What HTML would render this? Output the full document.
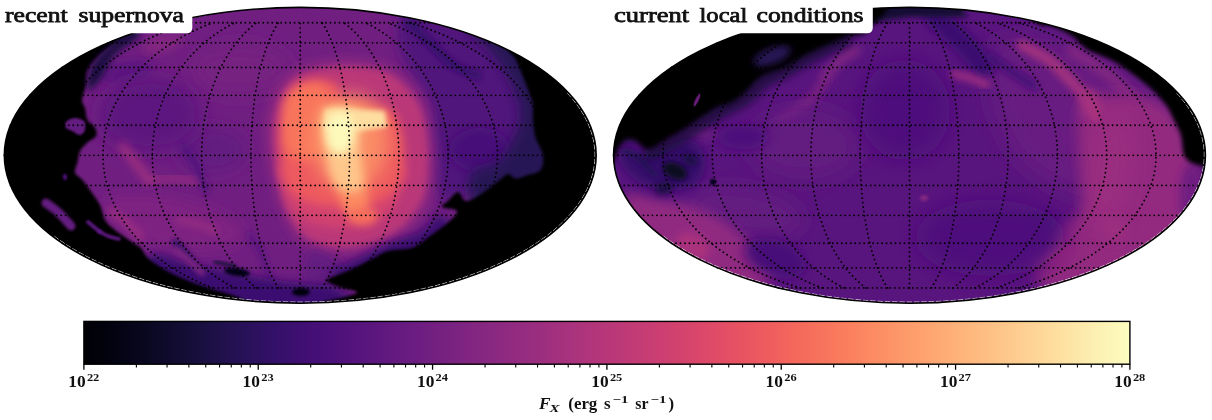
<!DOCTYPE html>
<html><head><meta charset="utf-8"><title>X-ray flux sky maps</title>
<style>
html,body{margin:0;padding:0;background:#fff;}
body{width:1212px;height:420px;overflow:hidden;font-family:"Liberation Serif",serif;}
svg{display:block}
text{font-family:"Liberation Serif",serif;font-weight:bold;fill:#111;}
</style></head><body>
<svg width="1212" height="420" viewBox="0 0 1212 420">
<defs>
<clipPath id="cl"><ellipse cx="300.25" cy="155.30" rx="295.90" ry="147.90"/></clipPath>
<clipPath id="cr"><ellipse cx="909.50" cy="155.30" rx="295.90" ry="147.90"/></clipPath>
<linearGradient id="mg" x1="0" x2="1" y1="0" y2="0"><stop offset="0.0000" stop-color="#000004"/><stop offset="0.0312" stop-color="#030312"/><stop offset="0.0625" stop-color="#0a0822"/><stop offset="0.0938" stop-color="#130d34"/><stop offset="0.1250" stop-color="#1d1147"/><stop offset="0.1562" stop-color="#29115a"/><stop offset="0.1875" stop-color="#36106b"/><stop offset="0.2188" stop-color="#440f76"/><stop offset="0.2500" stop-color="#51127c"/><stop offset="0.2812" stop-color="#5d177f"/><stop offset="0.3125" stop-color="#6a1c81"/><stop offset="0.3438" stop-color="#762181"/><stop offset="0.3750" stop-color="#832681"/><stop offset="0.4062" stop-color="#902a81"/><stop offset="0.4375" stop-color="#9c2e7f"/><stop offset="0.4688" stop-color="#aa337d"/><stop offset="0.5000" stop-color="#b73779"/><stop offset="0.5312" stop-color="#c43c75"/><stop offset="0.5625" stop-color="#d0416f"/><stop offset="0.5938" stop-color="#dc4869"/><stop offset="0.6250" stop-color="#e75263"/><stop offset="0.6562" stop-color="#ef5d5e"/><stop offset="0.6875" stop-color="#f56b5c"/><stop offset="0.7188" stop-color="#f9795d"/><stop offset="0.7500" stop-color="#fc8961"/><stop offset="0.7812" stop-color="#fd9869"/><stop offset="0.8125" stop-color="#fea772"/><stop offset="0.8438" stop-color="#feb67c"/><stop offset="0.8750" stop-color="#fec488"/><stop offset="0.9062" stop-color="#fed395"/><stop offset="0.9375" stop-color="#fde2a3"/><stop offset="0.9688" stop-color="#fcf0b2"/><stop offset="1.0000" stop-color="#fcfdbf"/></linearGradient>
<filter id="b0_7" x="-50%" y="-50%" width="200%" height="200%"><feGaussianBlur stdDeviation="0.7"/></filter>
<filter id="b0_8" x="-50%" y="-50%" width="200%" height="200%"><feGaussianBlur stdDeviation="0.8"/></filter>
<filter id="b1" x="-50%" y="-50%" width="200%" height="200%"><feGaussianBlur stdDeviation="1"/></filter>
<filter id="b1_2" x="-50%" y="-50%" width="200%" height="200%"><feGaussianBlur stdDeviation="1.2"/></filter>
<filter id="b1_5" x="-50%" y="-50%" width="200%" height="200%"><feGaussianBlur stdDeviation="1.5"/></filter>
<filter id="b1_8" x="-50%" y="-50%" width="200%" height="200%"><feGaussianBlur stdDeviation="1.8"/></filter>
<filter id="b2" x="-50%" y="-50%" width="200%" height="200%"><feGaussianBlur stdDeviation="2"/></filter>
<filter id="b2_5" x="-50%" y="-50%" width="200%" height="200%"><feGaussianBlur stdDeviation="2.5"/></filter>
<filter id="b3" x="-50%" y="-50%" width="200%" height="200%"><feGaussianBlur stdDeviation="3"/></filter>
<filter id="b3_5" x="-50%" y="-50%" width="200%" height="200%"><feGaussianBlur stdDeviation="3.5"/></filter>
<filter id="b4" x="-50%" y="-50%" width="200%" height="200%"><feGaussianBlur stdDeviation="4"/></filter>
<filter id="b4_5" x="-50%" y="-50%" width="200%" height="200%"><feGaussianBlur stdDeviation="4.5"/></filter>
<filter id="b5" x="-50%" y="-50%" width="200%" height="200%"><feGaussianBlur stdDeviation="5"/></filter>
<filter id="b6" x="-50%" y="-50%" width="200%" height="200%"><feGaussianBlur stdDeviation="6"/></filter>
<filter id="b7" x="-50%" y="-50%" width="200%" height="200%"><feGaussianBlur stdDeviation="7"/></filter>
<filter id="b8" x="-50%" y="-50%" width="200%" height="200%"><feGaussianBlur stdDeviation="8"/></filter>
<filter id="b9" x="-50%" y="-50%" width="200%" height="200%"><feGaussianBlur stdDeviation="9"/></filter>
<filter id="b10" x="-50%" y="-50%" width="200%" height="200%"><feGaussianBlur stdDeviation="10"/></filter>
<filter id="b12" x="-50%" y="-50%" width="200%" height="200%"><feGaussianBlur stdDeviation="12"/></filter>
</defs>
<rect width="1212" height="420" fill="#fff"/>
<g clip-path="url(#cl)">
<rect x="-0.6" y="0" width="601.8" height="310" fill="#701f81"/>
<ellipse cx="162.0" cy="44.0" rx="20.0" ry="8.0" fill="#842681" filter="url(#b4)" transform="rotate(-15.0 162.0 44.0)"/>
<ellipse cx="127.0" cy="72.0" rx="26.0" ry="11.0" fill="#5c167f" filter="url(#b5)" transform="rotate(-10.0 127.0 72.0)"/>
<ellipse cx="212.0" cy="150.0" rx="36.0" ry="24.0" fill="#641a80" filter="url(#b8)"/>
<ellipse cx="150.0" cy="115.0" rx="52.0" ry="38.0" fill="#5d177f" filter="url(#b10)"/>
<ellipse cx="240.0" cy="70.0" rx="50.0" ry="25.0" fill="#762181" filter="url(#b10)"/>
<path d="M150.0 180.0 C154.2 179.7 166.7 177.5 175.0 178.0 C183.3 178.5 195.8 182.2 200.0 183.0" fill="none" stroke="#8c2981" stroke-width="10.0" stroke-linecap="round" filter="url(#b4)"/>
<path d="M123.0 147.0 C125.3 150.0 132.5 159.3 137.0 165.0 C141.5 170.7 147.8 178.3 150.0 181.0" fill="none" stroke="#9c2e7f" stroke-width="9.0" stroke-linecap="round" filter="url(#b4)"/>
<path d="M184.0 147.0 C186.0 150.0 192.3 157.8 196.0 165.0 C199.7 172.2 204.3 185.8 206.0 190.0" fill="none" stroke="#51127c" stroke-width="7.0" stroke-linecap="round" filter="url(#b3)"/>
<path d="M105.0 200.0 C110.0 194.2 134.2 194.2 150.0 195.0 C165.8 195.8 185.0 200.0 200.0 205.0 C215.0 210.0 234.2 218.3 240.0 225.0 C245.8 231.7 243.3 240.8 235.0 245.0 C226.7 249.2 204.2 250.0 190.0 250.0 C175.8 250.0 161.7 248.3 150.0 245.0 C138.3 241.7 127.5 237.5 120.0 230.0 C112.5 222.5 100.0 205.8 105.0 200.0 Z" fill="#7e2482" filter="url(#b7)"/>
<path d="M112.0 212.0 C114.3 213.7 121.3 218.0 126.0 222.0 C130.7 226.0 137.7 233.7 140.0 236.0" fill="none" stroke="#942c80" stroke-width="9.0" stroke-linecap="round" filter="url(#b3)"/>
<path d="M180.0 220.0 C183.0 220.7 192.2 222.2 198.0 224.0 C203.8 225.8 212.2 229.8 215.0 231.0" fill="none" stroke="#902a81" stroke-width="9.0" stroke-linecap="round" filter="url(#b3)"/>
<path d="M175.0 242.0 C176.8 243.8 182.5 249.0 186.0 253.0 C189.5 257.0 194.3 263.8 196.0 266.0" fill="none" stroke="#331067" stroke-width="6.0" stroke-linecap="round" filter="url(#b2_5)"/>
<path d="M150.0 262.0 C154.2 264.2 165.8 271.5 175.0 275.0 C184.2 278.5 200.0 281.7 205.0 283.0" fill="none" stroke="#1a1042" stroke-width="4.0" stroke-linecap="round" filter="url(#b2)"/>
<path d="M250.0 235.0 C252.0 238.3 258.7 247.5 262.0 255.0 C265.3 262.5 268.7 275.8 270.0 280.0" fill="none" stroke="#59157e" stroke-width="6.0" stroke-linecap="round" filter="url(#b3)"/>
<path d="M405.0 12.0 C415.3 8.2 441.7 14.8 460.0 22.0 C478.3 29.2 501.7 42.0 515.0 55.0 C528.3 68.0 535.8 81.7 540.0 100.0 C544.2 118.3 546.7 151.7 540.0 165.0 C533.3 178.3 511.7 175.0 500.0 180.0 C488.3 185.0 480.0 191.7 470.0 195.0 C460.0 198.3 446.3 207.5 440.0 200.0 C433.7 192.5 433.7 165.8 432.0 150.0 C430.3 134.2 432.8 116.7 430.0 105.0 C427.2 93.3 420.3 90.0 415.0 80.0 C409.7 70.0 399.7 56.3 398.0 45.0 C396.3 33.7 394.7 15.8 405.0 12.0 Z" fill="#51127c" filter="url(#b6)"/>
<path d="M408.0 22.0 C412.0 25.8 424.5 37.8 432.0 45.0 C439.5 52.2 445.3 59.8 453.0 65.0 C460.7 70.2 473.8 74.2 478.0 76.0" fill="none" stroke="#36106b" stroke-width="8.0" stroke-linecap="round" filter="url(#b3)"/>
<ellipse cx="480.0" cy="150.0" rx="30.0" ry="22.0" fill="#471078" filter="url(#b6)"/>
<path d="M268.0 150.0 C266.5 134.5 267.7 121.3 270.0 110.0 C272.3 98.7 276.5 89.2 282.0 82.0 C287.5 74.8 292.5 70.7 303.0 67.0 C313.5 63.3 331.0 60.2 345.0 60.0 C359.0 59.8 375.8 62.0 387.0 66.0 C398.2 70.0 405.3 76.7 412.0 84.0 C418.7 91.3 423.3 99.0 427.0 110.0 C430.7 121.0 433.2 136.7 434.0 150.0 C434.8 163.3 434.3 178.8 432.0 190.0 C429.7 201.2 425.8 208.7 420.0 217.0 C414.2 225.3 407.0 234.0 397.0 240.0 C387.0 246.0 372.0 250.8 360.0 253.0 C348.0 255.2 335.0 255.2 325.0 253.0 C315.0 250.8 307.7 248.3 300.0 240.0 C292.3 231.7 284.3 218.0 279.0 203.0 C273.7 188.0 269.5 165.5 268.0 150.0 Z" fill="#942c80" filter="url(#b6)"/>
<path d="M310.0 250.0 C315.8 247.0 333.3 256.2 340.0 262.0 C346.7 267.8 352.5 279.2 350.0 285.0 C347.5 290.8 332.5 297.8 325.0 297.0 C317.5 296.2 307.5 287.8 305.0 280.0 C302.5 272.2 304.2 253.0 310.0 250.0 Z" fill="#641a80" filter="url(#b6)"/>
<path d="M150.0 256.0 C156.7 248.3 176.7 261.5 190.0 264.0 C203.3 266.5 216.7 268.5 230.0 271.0 C243.3 273.5 256.7 276.8 270.0 279.0 C283.3 281.2 299.2 282.5 310.0 284.0 C320.8 285.5 329.2 283.7 335.0 288.0 C340.8 292.3 375.8 306.3 345.0 310.0 C314.2 313.7 182.5 319.0 150.0 310.0 C117.5 301.0 143.3 263.7 150.0 256.0 Z" fill="#3b0f70" filter="url(#b4)"/>
<path d="M177.0 250.0 C179.2 251.8 185.8 257.2 190.0 261.0 C194.2 264.8 200.0 271.0 202.0 273.0" fill="none" stroke="#802582" stroke-width="6.0" stroke-linecap="round" filter="url(#b2_5)"/>
<ellipse cx="237.0" cy="272.0" rx="13.0" ry="4.0" fill="#050416" filter="url(#b1_5)" transform="rotate(8.0 237.0 272.0)"/>
<ellipse cx="301.0" cy="292.0" rx="9.0" ry="4.0" fill="#03030f" filter="url(#b1_5)"/>
<path d="M215.0 262.0 L235.0 266.0" fill="none" stroke="#140e36" stroke-width="3.0" stroke-linecap="round" filter="url(#b1_5)"/>
<path d="M274.0 150.0 C272.8 135.3 273.8 122.5 276.0 112.0 C278.2 101.5 282.0 93.5 287.0 87.0 C292.0 80.5 296.3 76.3 306.0 73.0 C315.7 69.7 332.0 67.2 345.0 67.0 C358.0 66.8 373.7 68.3 384.0 72.0 C394.3 75.7 400.8 82.3 407.0 89.0 C413.2 95.7 417.7 101.8 421.0 112.0 C424.3 122.2 426.3 137.3 427.0 150.0 C427.7 162.7 427.2 177.7 425.0 188.0 C422.8 198.3 419.5 204.5 414.0 212.0 C408.5 219.5 401.3 227.5 392.0 233.0 C382.7 238.5 369.0 243.0 358.0 245.0 C347.0 247.0 335.7 247.3 326.0 245.0 C316.3 242.7 307.2 238.5 300.0 231.0 C292.8 223.5 287.3 213.5 283.0 200.0 C278.7 186.5 275.2 164.7 274.0 150.0 Z" fill="#ba3878" filter="url(#b3)"/>
<path d="M283.0 165.0 C293.0 160.3 324.8 160.0 345.0 160.0 C365.2 160.0 394.7 160.0 404.0 165.0 C413.3 170.0 402.8 182.8 401.0 190.0 C399.2 197.2 397.3 202.7 393.0 208.0 C388.7 213.3 383.0 218.7 375.0 222.0 C367.0 225.3 355.5 227.8 345.0 228.0 C334.5 228.2 320.8 226.3 312.0 223.0 C303.2 219.7 296.5 213.8 292.0 208.0 C287.5 202.2 286.5 195.2 285.0 188.0 C283.5 180.8 273.0 169.7 283.0 165.0 Z" fill="#d2426f" filter="url(#b4)"/>
<path d="M281.0 150.0 C280.8 139.8 281.7 124.0 283.0 115.0 C284.3 106.0 286.2 101.2 289.0 96.0 C291.8 90.8 294.8 86.7 300.0 84.0 C305.2 81.3 314.0 80.0 320.0 80.0 C326.0 80.0 332.3 80.7 336.0 84.0 C339.7 87.3 337.2 96.7 342.0 100.0 C346.8 103.3 357.0 102.3 365.0 104.0 C373.0 105.7 384.2 106.0 390.0 110.0 C395.8 114.0 397.7 121.3 400.0 128.0 C402.3 134.7 403.7 142.2 404.0 150.0 C404.3 157.8 404.0 167.8 402.0 175.0 C400.0 182.2 397.0 188.2 392.0 193.0 C387.0 197.8 379.8 201.7 372.0 204.0 C364.2 206.3 355.0 207.2 345.0 207.0 C335.0 206.8 320.8 205.5 312.0 203.0 C303.2 200.5 296.7 196.5 292.0 192.0 C287.3 187.5 285.8 183.0 284.0 176.0 C282.2 169.0 281.2 160.2 281.0 150.0 Z" fill="#ed5a5f" filter="url(#b5)"/>
<path d="M286.0 102.0 C288.5 92.3 294.0 89.8 300.0 87.0 C306.0 84.2 317.3 81.5 322.0 85.0 C326.7 88.5 327.3 97.2 328.0 108.0 C328.7 118.8 330.7 141.3 326.0 150.0 C321.3 158.7 306.8 160.8 300.0 160.0 C293.2 159.2 287.3 154.7 285.0 145.0 C282.7 135.3 283.5 111.7 286.0 102.0 Z" fill="#f8745c" filter="url(#b5)"/>
<ellipse cx="350.0" cy="142.0" rx="38.0" ry="48.0" fill="#fd9668" opacity="0.85" filter="url(#b9)"/>
<path d="M338.0 170.0 C341.3 164.2 357.0 164.2 362.0 170.0 C367.0 175.8 369.0 197.0 368.0 205.0 C367.0 213.0 360.3 218.0 356.0 218.0 C351.7 218.0 345.0 213.0 342.0 205.0 C339.0 197.0 334.7 175.8 338.0 170.0 Z" fill="#fc8961" filter="url(#b5)"/>
<path d="M323.0 110.0 C328.0 102.0 350.8 105.3 357.0 112.0 C363.2 118.7 359.0 137.8 360.0 150.0 C361.0 162.2 364.7 178.0 363.0 185.0 C361.3 192.0 354.7 192.0 350.0 192.0 C345.3 192.0 338.8 190.3 335.0 185.0 C331.2 179.7 329.0 172.5 327.0 160.0 C325.0 147.5 318.0 118.0 323.0 110.0 Z" fill="#fec68a" filter="url(#b5)"/>
<path d="M325.0 110.0 L355.0 109.0 L385.0 111.0 L387.0 127.0 L360.0 131.0 L325.0 131.0 Z" fill="#fddea0" filter="url(#b2_5)"/>
<ellipse cx="340.0" cy="133.0" rx="14.0" ry="21.0" fill="#fcf9bb" filter="url(#b4_5)"/>
<ellipse cx="363.0" cy="216.0" rx="14.0" ry="9.0" fill="#f7705c" filter="url(#b4)"/>
<path d="M150.0 -10.0 C176.7 -4.2 143.3 17.3 140.0 25.0 C136.7 32.7 135.0 32.3 130.0 36.0 C125.0 39.7 115.8 43.0 110.0 47.0 C104.2 51.0 98.8 55.8 95.0 60.0 C91.2 64.2 88.5 67.8 87.0 72.0 C85.5 76.2 86.8 80.3 86.0 85.0 C85.2 89.7 82.2 96.2 82.0 100.0 C81.8 103.8 84.1 104.7 85.0 108.0 C85.9 111.3 85.8 116.8 87.5 120.0 C89.2 123.2 93.6 124.8 95.0 127.5 C96.4 130.2 97.2 133.5 96.0 136.0 C94.8 138.5 90.2 140.0 87.5 142.5 C84.8 145.0 81.7 147.7 80.0 151.0 C78.3 154.3 78.3 158.9 77.5 162.5 C76.7 166.1 74.2 169.6 75.0 172.5 C75.8 175.4 80.0 177.1 82.5 180.0 C85.0 182.9 87.1 185.8 90.0 190.0 C92.9 194.2 97.5 200.0 100.0 205.0 C102.5 210.0 102.5 215.8 105.0 220.0 C107.5 224.2 110.5 226.3 115.0 230.0 C119.5 233.7 127.7 239.0 132.0 242.0 C136.3 245.0 138.0 245.0 141.0 248.0 C144.0 251.0 144.3 255.5 150.0 260.0 C155.7 264.5 165.8 270.5 175.0 275.0 C184.2 279.5 194.2 283.2 205.0 287.0 C215.8 290.8 230.8 293.8 240.0 298.0 C249.2 302.2 260.0 306.7 260.0 312.0 C260.0 317.3 286.7 327.0 240.0 330.0 C193.3 333.0 23.3 386.7 -20.0 330.0 C-63.3 273.3 -48.3 46.7 -20.0 -10.0 C8.3 -66.7 123.3 -15.8 150.0 -10.0 Z" fill="#000004" filter="url(#b1_5)"/>
<path d="M130.0 30.0 C125.3 31.3 117.5 39.3 112.0 44.0 C106.5 48.7 100.8 53.3 97.0 58.0 C93.2 62.7 90.5 66.7 89.0 72.0 C87.5 77.3 86.2 88.7 88.0 90.0 C89.8 91.3 95.5 85.8 100.0 80.0 C104.5 74.2 108.3 62.3 115.0 55.0 C121.7 47.7 137.5 40.2 140.0 36.0 C142.5 31.8 134.7 28.7 130.0 30.0 Z" fill="#1a1042" filter="url(#b3)"/>
<path d="M66.0 122.0 C67.3 120.3 71.0 118.2 74.0 118.0 C77.0 117.8 82.2 119.0 84.0 121.0 C85.8 123.0 85.7 127.7 85.0 130.0 C84.3 132.3 82.2 134.8 80.0 135.0 C77.8 135.2 74.3 132.2 72.0 131.0 C69.7 129.8 67.0 129.5 66.0 128.0 C65.0 126.5 64.7 123.7 66.0 122.0 Z" fill="#641a80" filter="url(#b1_2)"/>
<path d="M46.0 203.0 C48.0 204.5 53.8 208.2 58.0 212.0 C62.2 215.8 68.8 223.7 71.0 226.0" fill="none" stroke="#641a80" stroke-width="9.0" stroke-linecap="round" filter="url(#b1_5)"/>
<path d="M88.0 222.0 L100.0 232.0" fill="none" stroke="#59157e" stroke-width="4.0" stroke-linecap="round" filter="url(#b1_2)"/>
<path d="M99.0 231.0 C100.5 231.8 104.7 234.7 108.0 236.0 C111.3 237.3 117.2 238.5 119.0 239.0" fill="none" stroke="#5c167f" stroke-width="3.5" stroke-linecap="round" filter="url(#b1)"/>
<ellipse cx="65.0" cy="177.0" rx="2.0" ry="3.0" fill="#51127c" filter="url(#b0_8)"/>
<path d="M470.0 175.0 C473.3 165.8 491.7 169.2 500.0 160.0 C508.3 150.8 518.0 132.5 520.0 120.0 C522.0 107.5 517.0 96.7 512.0 85.0 C507.0 73.3 497.0 59.2 490.0 50.0 C483.0 40.8 465.0 33.3 470.0 30.0 C475.0 26.7 505.0 13.3 520.0 30.0 C535.0 46.7 556.7 101.7 560.0 130.0 C563.3 158.3 553.3 185.8 540.0 200.0 C526.7 214.2 491.7 219.2 480.0 215.0 C468.3 210.8 466.7 184.2 470.0 175.0 Z" fill="#251255" filter="url(#b6)"/>
<path d="M440.0 215.0 C435.0 214.5 428.3 227.5 420.0 232.0 C411.7 236.5 401.7 237.0 390.0 242.0 C378.3 247.0 360.0 257.0 350.0 262.0 C340.0 267.0 330.8 269.0 330.0 272.0 C329.2 275.0 333.3 281.7 345.0 280.0 C356.7 278.3 382.5 269.5 400.0 262.0 C417.5 254.5 443.3 242.8 450.0 235.0 C456.7 227.2 445.0 215.5 440.0 215.0 Z" fill="#3b0f70" filter="url(#b4)"/>
<path d="M520.0 20.0 C514.7 29.5 508.8 40.7 508.0 47.0 C507.2 53.3 512.7 53.5 515.0 58.0 C517.3 62.5 519.7 68.3 522.0 74.0 C524.3 79.7 527.2 86.8 529.0 92.0 C530.8 97.2 532.3 100.3 533.0 105.0 C533.7 109.7 532.6 114.6 533.0 120.0 C533.4 125.4 533.8 131.7 535.5 137.5 C537.2 143.3 542.2 149.6 543.0 155.0 C543.8 160.4 543.0 166.7 540.5 170.0 C538.0 173.3 532.2 173.6 528.0 175.0 C523.8 176.4 518.8 178.7 515.5 178.5 C512.2 178.3 511.3 173.2 508.0 174.0 C504.7 174.8 500.5 179.8 495.5 183.5 C490.5 187.2 483.0 193.1 478.0 196.0 C473.0 198.9 468.8 201.7 465.5 201.0 C462.2 200.3 460.9 192.0 458.0 192.0 C455.1 192.0 450.7 198.5 448.0 201.0 C445.3 203.5 440.5 205.3 442.0 207.0 C443.5 208.7 456.0 208.4 457.0 211.0 C458.0 213.6 452.8 218.1 448.0 222.5 C443.2 226.9 433.8 233.3 428.0 237.5 C422.2 241.7 419.7 245.2 413.0 247.5 C406.3 249.8 394.7 249.2 388.0 251.0 C381.3 252.8 378.8 255.6 373.0 258.5 C367.2 261.4 360.3 265.2 353.0 268.5 C345.7 271.8 333.3 276.3 329.0 278.5 C324.7 280.7 325.1 280.0 327.0 281.5 C328.9 283.0 335.5 285.8 340.5 287.5 C345.5 289.2 356.2 290.4 357.0 292.0 C357.8 293.6 351.2 295.2 345.0 297.0 C338.8 298.8 327.5 300.0 320.0 303.0 C312.5 306.0 250.0 310.5 300.0 315.0 C350.0 319.5 566.7 384.2 620.0 330.0 C673.3 275.8 633.3 46.7 620.0 -10.0 C606.7 -66.7 556.7 -15.0 540.0 -10.0 C523.3 -5.0 525.3 10.5 520.0 20.0 Z" fill="#000004" filter="url(#b1_8)"/>
</g>
<g fill="none" stroke="#000" stroke-width="1.85" stroke-linecap="round" stroke-dasharray="0.01 4.47">
<path d="M4.35 155.30 H596.15"/>
<path d="M10.54 125.20 H589.96"/>
<path d="M29.79 95.30 H570.71"/>
<path d="M62.28 67.40 H538.22"/>
<path d="M108.16 42.80 H492.34"/>
<path d="M169.18 22.70 H431.32"/>
<path d="M10.54 185.40 H589.96"/>
<path d="M29.79 215.30 H570.71"/>
<path d="M62.28 243.20 H538.22"/>
<path d="M108.16 267.80 H492.34"/>
<path d="M169.18 287.90 H431.32"/>
<path d="M191.03 287.90 L182.91 285.38 L174.96 282.68 L167.17 279.81 L159.57 276.77 L152.16 273.56 L144.96 270.19 L137.97 266.66 L131.20 262.97 L124.66 259.14 L118.37 255.17 L112.32 251.06 L106.54 246.81 L101.02 242.45 L95.77 237.96 L90.80 233.36 L86.13 228.65 L81.74 223.84 L77.66 218.93 L73.88 213.94 L70.41 208.87 L67.26 203.73 L64.43 198.51 L61.92 193.24 L59.74 187.92 L57.89 182.55 L56.37 177.15 L55.19 171.71 L54.34 166.25 L53.84 160.78 L53.67 155.30 L53.84 149.82 L54.34 144.35 L55.19 138.89 L56.37 133.45 L57.89 128.05 L59.74 122.68 L61.92 117.36 L64.43 112.09 L67.26 106.87 L70.41 101.73 L73.88 96.66 L77.66 91.67 L81.74 86.76 L86.13 81.95 L90.80 77.24 L95.77 72.64 L101.02 68.15 L106.54 63.79 L112.32 59.54 L118.37 55.43 L124.66 51.46 L131.20 47.63 L137.97 43.94 L144.96 40.41 L152.16 37.04 L159.57 33.83 L167.17 30.79 L174.96 27.92 L182.91 25.22 L191.03 22.70"/>
<path d="M212.87 287.90 L206.38 285.38 L200.01 282.68 L193.79 279.81 L187.71 276.77 L181.78 273.56 L176.02 270.19 L170.42 266.66 L165.01 262.97 L159.78 259.14 L154.75 255.17 L149.91 251.06 L145.28 246.81 L140.86 242.45 L136.67 237.96 L132.69 233.36 L128.95 228.65 L125.44 223.84 L122.18 218.93 L119.15 213.94 L116.38 208.87 L113.86 203.73 L111.59 198.51 L109.59 193.24 L107.84 187.92 L106.36 182.55 L105.15 177.15 L104.20 171.71 L103.53 166.25 L103.12 160.78 L102.98 155.30 L103.12 149.82 L103.53 144.35 L104.20 138.89 L105.15 133.45 L106.36 128.05 L107.84 122.68 L109.59 117.36 L111.59 112.09 L113.86 106.87 L116.38 101.73 L119.15 96.66 L122.18 91.67 L125.44 86.76 L128.95 81.95 L132.69 77.24 L136.67 72.64 L140.86 68.15 L145.28 63.79 L149.91 59.54 L154.75 55.43 L159.78 51.46 L165.01 47.63 L170.42 43.94 L176.02 40.41 L181.78 37.04 L187.71 33.83 L193.79 30.79 L200.01 27.92 L206.38 25.22 L212.87 22.70"/>
<path d="M234.72 287.90 L229.85 285.38 L225.07 282.68 L220.40 279.81 L215.84 276.77 L211.40 273.56 L207.08 270.19 L202.88 266.66 L198.82 262.97 L194.90 259.14 L191.12 255.17 L187.49 251.06 L184.02 246.81 L180.71 242.45 L177.56 237.96 L174.58 233.36 L171.78 228.65 L169.14 223.84 L166.69 218.93 L164.43 213.94 L162.35 208.87 L160.46 203.73 L158.76 198.51 L157.25 193.24 L155.94 187.92 L154.83 182.55 L153.92 177.15 L153.21 171.71 L152.71 166.25 L152.40 160.78 L152.30 155.30 L152.40 149.82 L152.71 144.35 L153.21 138.89 L153.92 133.45 L154.83 128.05 L155.94 122.68 L157.25 117.36 L158.76 112.09 L160.46 106.87 L162.35 101.73 L164.43 96.66 L166.69 91.67 L169.14 86.76 L171.78 81.95 L174.58 77.24 L177.56 72.64 L180.71 68.15 L184.02 63.79 L187.49 59.54 L191.12 55.43 L194.90 51.46 L198.82 47.63 L202.88 43.94 L207.08 40.41 L211.40 37.04 L215.84 33.83 L220.40 30.79 L225.07 27.92 L229.85 25.22 L234.72 22.70"/>
<path d="M256.56 287.90 L253.31 285.38 L250.13 282.68 L247.02 279.81 L243.98 276.77 L241.02 273.56 L238.13 270.19 L235.34 266.66 L232.63 262.97 L230.02 259.14 L227.50 255.17 L225.08 251.06 L222.77 246.81 L220.56 242.45 L218.46 237.96 L216.47 233.36 L214.60 228.65 L212.85 223.84 L211.21 218.93 L209.70 213.94 L208.31 208.87 L207.05 203.73 L205.92 198.51 L204.92 193.24 L204.05 187.92 L203.31 182.55 L202.70 177.15 L202.23 171.71 L201.89 166.25 L201.68 160.78 L201.62 155.30 L201.68 149.82 L201.89 144.35 L202.23 138.89 L202.70 133.45 L203.31 128.05 L204.05 122.68 L204.92 117.36 L205.92 112.09 L207.05 106.87 L208.31 101.73 L209.70 96.66 L211.21 91.67 L212.85 86.76 L214.60 81.95 L216.47 77.24 L218.46 72.64 L220.56 68.15 L222.77 63.79 L225.08 59.54 L227.50 55.43 L230.02 51.46 L232.63 47.63 L235.34 43.94 L238.13 40.41 L241.02 37.04 L243.98 33.83 L247.02 30.79 L250.13 27.92 L253.31 25.22 L256.56 22.70"/>
<path d="M278.41 287.90 L276.78 285.38 L275.19 282.68 L273.63 279.81 L272.11 276.77 L270.63 273.56 L269.19 270.19 L267.79 266.66 L266.44 262.97 L265.13 259.14 L263.87 255.17 L262.66 251.06 L261.51 246.81 L260.40 242.45 L259.35 237.96 L258.36 233.36 L257.43 228.65 L256.55 223.84 L255.73 218.93 L254.98 213.94 L254.28 208.87 L253.65 203.73 L253.09 198.51 L252.58 193.24 L252.15 187.92 L251.78 182.55 L251.47 177.15 L251.24 171.71 L251.07 166.25 L250.97 160.78 L250.93 155.30 L250.97 149.82 L251.07 144.35 L251.24 138.89 L251.47 133.45 L251.78 128.05 L252.15 122.68 L252.58 117.36 L253.09 112.09 L253.65 106.87 L254.28 101.73 L254.98 96.66 L255.73 91.67 L256.55 86.76 L257.43 81.95 L258.36 77.24 L259.35 72.64 L260.40 68.15 L261.51 63.79 L262.66 59.54 L263.87 55.43 L265.13 51.46 L266.44 47.63 L267.79 43.94 L269.19 40.41 L270.63 37.04 L272.11 33.83 L273.63 30.79 L275.19 27.92 L276.78 25.22 L278.41 22.70"/>
<path d="M300.25 287.90 L300.25 285.38 L300.25 282.68 L300.25 279.81 L300.25 276.77 L300.25 273.56 L300.25 270.19 L300.25 266.66 L300.25 262.97 L300.25 259.14 L300.25 255.17 L300.25 251.06 L300.25 246.81 L300.25 242.45 L300.25 237.96 L300.25 233.36 L300.25 228.65 L300.25 223.84 L300.25 218.93 L300.25 213.94 L300.25 208.87 L300.25 203.73 L300.25 198.51 L300.25 193.24 L300.25 187.92 L300.25 182.55 L300.25 177.15 L300.25 171.71 L300.25 166.25 L300.25 160.78 L300.25 155.30 L300.25 149.82 L300.25 144.35 L300.25 138.89 L300.25 133.45 L300.25 128.05 L300.25 122.68 L300.25 117.36 L300.25 112.09 L300.25 106.87 L300.25 101.73 L300.25 96.66 L300.25 91.67 L300.25 86.76 L300.25 81.95 L300.25 77.24 L300.25 72.64 L300.25 68.15 L300.25 63.79 L300.25 59.54 L300.25 55.43 L300.25 51.46 L300.25 47.63 L300.25 43.94 L300.25 40.41 L300.25 37.04 L300.25 33.83 L300.25 30.79 L300.25 27.92 L300.25 25.22 L300.25 22.70"/>
<path d="M322.09 287.90 L323.72 285.38 L325.31 282.68 L326.87 279.81 L328.39 276.77 L329.87 273.56 L331.31 270.19 L332.71 266.66 L334.06 262.97 L335.37 259.14 L336.63 255.17 L337.84 251.06 L338.99 246.81 L340.10 242.45 L341.15 237.96 L342.14 233.36 L343.07 228.65 L343.95 223.84 L344.77 218.93 L345.52 213.94 L346.22 208.87 L346.85 203.73 L347.41 198.51 L347.92 193.24 L348.35 187.92 L348.72 182.55 L349.03 177.15 L349.26 171.71 L349.43 166.25 L349.53 160.78 L349.57 155.30 L349.53 149.82 L349.43 144.35 L349.26 138.89 L349.03 133.45 L348.72 128.05 L348.35 122.68 L347.92 117.36 L347.41 112.09 L346.85 106.87 L346.22 101.73 L345.52 96.66 L344.77 91.67 L343.95 86.76 L343.07 81.95 L342.14 77.24 L341.15 72.64 L340.10 68.15 L338.99 63.79 L337.84 59.54 L336.63 55.43 L335.37 51.46 L334.06 47.63 L332.71 43.94 L331.31 40.41 L329.87 37.04 L328.39 33.83 L326.87 30.79 L325.31 27.92 L323.72 25.22 L322.09 22.70"/>
<path d="M343.94 287.90 L347.19 285.38 L350.37 282.68 L353.48 279.81 L356.52 276.77 L359.48 273.56 L362.37 270.19 L365.16 266.66 L367.87 262.97 L370.48 259.14 L373.00 255.17 L375.42 251.06 L377.73 246.81 L379.94 242.45 L382.04 237.96 L384.03 233.36 L385.90 228.65 L387.65 223.84 L389.29 218.93 L390.80 213.94 L392.19 208.87 L393.45 203.73 L394.58 198.51 L395.58 193.24 L396.45 187.92 L397.19 182.55 L397.80 177.15 L398.27 171.71 L398.61 166.25 L398.82 160.78 L398.88 155.30 L398.82 149.82 L398.61 144.35 L398.27 138.89 L397.80 133.45 L397.19 128.05 L396.45 122.68 L395.58 117.36 L394.58 112.09 L393.45 106.87 L392.19 101.73 L390.80 96.66 L389.29 91.67 L387.65 86.76 L385.90 81.95 L384.03 77.24 L382.04 72.64 L379.94 68.15 L377.73 63.79 L375.42 59.54 L373.00 55.43 L370.48 51.46 L367.87 47.63 L365.16 43.94 L362.37 40.41 L359.48 37.04 L356.52 33.83 L353.48 30.79 L350.37 27.92 L347.19 25.22 L343.94 22.70"/>
<path d="M365.78 287.90 L370.65 285.38 L375.43 282.68 L380.10 279.81 L384.66 276.77 L389.10 273.56 L393.42 270.19 L397.62 266.66 L401.68 262.97 L405.60 259.14 L409.38 255.17 L413.01 251.06 L416.48 246.81 L419.79 242.45 L422.94 237.96 L425.92 233.36 L428.72 228.65 L431.36 223.84 L433.81 218.93 L436.07 213.94 L438.15 208.87 L440.04 203.73 L441.74 198.51 L443.25 193.24 L444.56 187.92 L445.67 182.55 L446.58 177.15 L447.29 171.71 L447.79 166.25 L448.10 160.78 L448.20 155.30 L448.10 149.82 L447.79 144.35 L447.29 138.89 L446.58 133.45 L445.67 128.05 L444.56 122.68 L443.25 117.36 L441.74 112.09 L440.04 106.87 L438.15 101.73 L436.07 96.66 L433.81 91.67 L431.36 86.76 L428.72 81.95 L425.92 77.24 L422.94 72.64 L419.79 68.15 L416.48 63.79 L413.01 59.54 L409.38 55.43 L405.60 51.46 L401.68 47.63 L397.62 43.94 L393.42 40.41 L389.10 37.04 L384.66 33.83 L380.10 30.79 L375.43 27.92 L370.65 25.22 L365.78 22.70"/>
<path d="M387.63 287.90 L394.12 285.38 L400.49 282.68 L406.71 279.81 L412.79 276.77 L418.72 273.56 L424.48 270.19 L430.08 266.66 L435.49 262.97 L440.72 259.14 L445.75 255.17 L450.59 251.06 L455.22 246.81 L459.64 242.45 L463.83 237.96 L467.81 233.36 L471.55 228.65 L475.06 223.84 L478.32 218.93 L481.35 213.94 L484.12 208.87 L486.64 203.73 L488.91 198.51 L490.91 193.24 L492.66 187.92 L494.14 182.55 L495.35 177.15 L496.30 171.71 L496.97 166.25 L497.38 160.78 L497.52 155.30 L497.38 149.82 L496.97 144.35 L496.30 138.89 L495.35 133.45 L494.14 128.05 L492.66 122.68 L490.91 117.36 L488.91 112.09 L486.64 106.87 L484.12 101.73 L481.35 96.66 L478.32 91.67 L475.06 86.76 L471.55 81.95 L467.81 77.24 L463.83 72.64 L459.64 68.15 L455.22 63.79 L450.59 59.54 L445.75 55.43 L440.72 51.46 L435.49 47.63 L430.08 43.94 L424.48 40.41 L418.72 37.04 L412.79 33.83 L406.71 30.79 L400.49 27.92 L394.12 25.22 L387.63 22.70"/>
<path d="M409.47 287.90 L417.59 285.38 L425.54 282.68 L433.33 279.81 L440.93 276.77 L448.34 273.56 L455.54 270.19 L462.53 266.66 L469.30 262.97 L475.84 259.14 L482.13 255.17 L488.18 251.06 L493.96 246.81 L499.48 242.45 L504.73 237.96 L509.70 233.36 L514.37 228.65 L518.76 223.84 L522.84 218.93 L526.62 213.94 L530.09 208.87 L533.24 203.73 L536.07 198.51 L538.58 193.24 L540.76 187.92 L542.61 182.55 L544.13 177.15 L545.31 171.71 L546.16 166.25 L546.66 160.78 L546.83 155.30 L546.66 149.82 L546.16 144.35 L545.31 138.89 L544.13 133.45 L542.61 128.05 L540.76 122.68 L538.58 117.36 L536.07 112.09 L533.24 106.87 L530.09 101.73 L526.62 96.66 L522.84 91.67 L518.76 86.76 L514.37 81.95 L509.70 77.24 L504.73 72.64 L499.48 68.15 L493.96 63.79 L488.18 59.54 L482.13 55.43 L475.84 51.46 L469.30 47.63 L462.53 43.94 L455.54 40.41 L448.34 37.04 L440.93 33.83 L433.33 30.79 L425.54 27.92 L417.59 25.22 L409.47 22.70"/>
</g>
<path d="M567.43 93.26 A294.80 146.80 0 0 1 53.01 235.25" fill="none" stroke="#fff" stroke-width="0.8" stroke-dasharray="5.5 1.8" opacity="0.95"/>
<ellipse cx="300.25" cy="155.30" rx="295.90" ry="147.90" fill="none" stroke="#000" stroke-width="1.6"/>
<g clip-path="url(#cr)">
<rect x="608.6" y="0" width="601.8" height="310" fill="#59157e"/>
<path d="M779.0 122.0 C782.5 119.7 794.3 112.0 800.0 108.0 C805.7 104.0 808.7 103.0 813.0 98.0 C817.3 93.0 823.8 81.3 826.0 78.0" fill="none" stroke="#7c2382" stroke-width="9.0" stroke-linecap="round" filter="url(#b4)"/>
<ellipse cx="805.0" cy="145.0" rx="55.0" ry="35.0" fill="#641a80" filter="url(#b12)"/>
<ellipse cx="743.0" cy="137.0" rx="26.0" ry="12.0" fill="#4c117a" filter="url(#b6)"/>
<ellipse cx="702.0" cy="134.0" rx="14.0" ry="8.0" fill="#6b1d81" filter="url(#b4)"/>
<path d="M1000.0 40.0 C1018.3 33.3 1073.3 40.0 1100.0 50.0 C1126.7 60.0 1145.8 81.7 1160.0 100.0 C1174.2 118.3 1195.0 143.3 1185.0 160.0 C1175.0 176.7 1127.5 200.0 1100.0 200.0 C1072.5 200.0 1038.3 178.3 1020.0 160.0 C1001.7 141.7 993.3 110.0 990.0 90.0 C986.7 70.0 981.7 46.7 1000.0 40.0 Z" fill="#681c81" filter="url(#b12)"/>
<path d="M826.0 75.0 C828.3 72.5 835.0 64.2 840.0 60.0 C845.0 55.8 853.3 51.7 856.0 50.0" fill="none" stroke="#802582" stroke-width="10.0" stroke-linecap="round" filter="url(#b4)"/>
<path d="M936.0 18.0 C940.0 21.7 952.0 32.0 960.0 40.0 C968.0 48.0 980.0 61.7 984.0 66.0" fill="none" stroke="#3b0f70" stroke-width="22.0" stroke-linecap="round" filter="url(#b5)"/>
<path d="M954.0 74.0 C956.7 74.7 964.7 76.3 970.0 78.0 C975.3 79.7 983.3 83.0 986.0 84.0" fill="none" stroke="#942c80" stroke-width="9.0" stroke-linecap="round" filter="url(#b3)"/>
<path d="M991.0 57.0 C994.5 59.5 1004.8 67.2 1012.0 72.0 C1019.2 76.8 1030.3 83.7 1034.0 86.0" fill="none" stroke="#440f76" stroke-width="9.0" stroke-linecap="round" filter="url(#b3_5)"/>
<path d="M1022.0 45.0 C1026.5 47.5 1041.3 54.5 1049.0 60.0 C1056.7 65.5 1061.8 71.8 1068.0 78.0 C1074.2 84.2 1083.0 93.8 1086.0 97.0" fill="none" stroke="#a1307e" stroke-width="11.0" stroke-linecap="round" filter="url(#b3_5)"/>
<path d="M1071.0 50.0 C1077.3 54.2 1098.5 66.7 1109.0 75.0 C1119.5 83.3 1129.8 95.8 1134.0 100.0" fill="none" stroke="#842681" stroke-width="10.0" stroke-linecap="round" filter="url(#b4)"/>
<path d="M909.0 4.0 L960.0 6.0 L968.0 17.0 L909.0 17.0 L868.0 23.0 L866.0 4.0 Z" fill="#140e36" filter="url(#b2_5)"/>
<path d="M1086.0 100.0 C1094.7 95.0 1116.0 93.3 1130.0 95.0 C1144.0 96.7 1160.0 100.8 1170.0 110.0 C1180.0 119.2 1185.8 136.7 1190.0 150.0 C1194.2 163.3 1197.5 175.0 1195.0 190.0 C1192.5 205.0 1187.5 225.8 1175.0 240.0 C1162.5 254.2 1140.8 266.7 1120.0 275.0 C1099.2 283.3 1064.3 292.2 1050.0 290.0 C1035.7 287.8 1035.0 269.2 1034.0 262.0 C1033.0 254.8 1039.8 252.3 1044.0 247.0 C1048.2 241.7 1052.3 237.0 1059.0 230.0 C1065.7 223.0 1080.5 216.7 1084.0 205.0 C1087.5 193.3 1081.0 173.3 1080.0 160.0 C1079.0 146.7 1077.0 135.0 1078.0 125.0 C1079.0 115.0 1077.3 105.0 1086.0 100.0 Z" fill="#932b80" filter="url(#b7)"/>
<ellipse cx="1110.0" cy="170.0" rx="22.0" ry="60.0" fill="#9c2e7f" opacity="0.80" filter="url(#b10)" transform="rotate(8.0 1110.0 170.0)"/>
<ellipse cx="1192.0" cy="195.0" rx="12.0" ry="32.0" fill="#701f81" filter="url(#b5)"/>
<ellipse cx="1094.0" cy="112.0" rx="4.0" ry="10.0" fill="#ad347c" filter="url(#b2_5)" transform="rotate(-15.0 1094.0 112.0)"/>
<ellipse cx="1114.0" cy="230.0" rx="14.0" ry="12.0" fill="#9c2e7f" filter="url(#b6)"/>
<ellipse cx="1090.0" cy="103.0" rx="10.0" ry="14.0" fill="#a5317e" filter="url(#b5)" transform="rotate(-20.0 1090.0 103.0)"/>
<ellipse cx="1056.0" cy="254.0" rx="14.0" ry="7.0" fill="#aa337d" filter="url(#b3)" transform="rotate(-35.0 1056.0 254.0)"/>
<ellipse cx="1036.0" cy="228.0" rx="22.0" ry="11.0" fill="#440f76" filter="url(#b5)" transform="rotate(-30.0 1036.0 228.0)"/>
<ellipse cx="745.0" cy="212.0" rx="60.0" ry="24.0" fill="#641a80" filter="url(#b10)" transform="rotate(10.0 745.0 212.0)"/>
<ellipse cx="990.0" cy="238.0" rx="75.0" ry="38.0" fill="#4e117b" filter="url(#b12)"/>
<ellipse cx="905.0" cy="110.0" rx="45.0" ry="50.0" fill="#4e117b" filter="url(#b12)"/>
<path d="M624.0 196.0 C627.3 189.8 647.3 197.8 660.0 200.0 C672.7 202.2 688.3 204.7 700.0 209.0 C711.7 213.3 720.3 219.2 730.0 226.0 C739.7 232.8 750.7 241.7 758.0 250.0 C765.3 258.3 775.3 269.7 774.0 276.0 C772.7 282.3 762.3 287.3 750.0 288.0 C737.7 288.7 714.2 284.3 700.0 280.0 C685.8 275.7 675.0 269.2 665.0 262.0 C655.0 254.8 646.8 248.0 640.0 237.0 C633.2 226.0 620.7 202.2 624.0 196.0 Z" fill="#902a81" filter="url(#b6)"/>
<ellipse cx="693.0" cy="246.0" rx="18.0" ry="12.0" fill="#aa337d" filter="url(#b4)" transform="rotate(30.0 693.0 246.0)"/>
<ellipse cx="775.0" cy="258.0" rx="32.0" ry="18.0" fill="#471078" filter="url(#b6)" transform="rotate(20.0 775.0 258.0)"/>
<ellipse cx="924.0" cy="198.0" rx="4.0" ry="3.0" fill="#842681" filter="url(#b1_5)"/>
<path d="M621.0 142.0 C628.5 143.3 646.8 141.7 660.0 138.0 C673.2 134.3 688.3 125.7 700.0 120.0 C711.7 114.3 720.0 110.7 730.0 104.0 C740.0 97.3 748.3 87.3 760.0 80.0 C771.7 72.7 785.7 67.3 800.0 60.0 C814.3 52.7 838.3 41.8 846.0 36.0 C853.7 30.2 870.3 21.0 846.0 25.0 C821.7 29.0 738.5 42.5 700.0 60.0 C661.5 77.5 628.2 116.3 615.0 130.0 C601.8 143.7 613.5 140.7 621.0 142.0 Z" fill="#29115a" filter="url(#b6)"/>
<path d="M618.0 150.0 C621.3 145.8 638.0 151.7 650.0 150.0 C662.0 148.3 680.8 138.3 690.0 140.0 C699.2 141.7 704.2 152.5 705.0 160.0 C705.8 167.5 702.5 180.0 695.0 185.0 C687.5 190.0 670.8 191.7 660.0 190.0 C649.2 188.3 637.0 181.7 630.0 175.0 C623.0 168.3 614.7 154.2 618.0 150.0 Z" fill="#36106b" filter="url(#b6)"/>
<ellipse cx="675.0" cy="171.0" rx="13.0" ry="8.0" fill="#0b0924" filter="url(#b2_5)" transform="rotate(25.0 675.0 171.0)"/>
<ellipse cx="664.0" cy="188.0" rx="9.0" ry="6.0" fill="#1a1042" filter="url(#b3)" transform="rotate(-20.0 664.0 188.0)"/>
<ellipse cx="690.0" cy="160.0" rx="8.0" ry="5.0" fill="#1a1042" filter="url(#b3)" transform="rotate(30.0 690.0 160.0)"/>
<ellipse cx="713.0" cy="182.0" rx="3.0" ry="3.0" fill="#06051a" filter="url(#b1_2)"/>
<path d="M625.0 150.0 C627.5 151.7 635.0 155.8 640.0 160.0 C645.0 164.2 652.5 172.5 655.0 175.0" fill="none" stroke="#251255" stroke-width="5.0" stroke-linecap="round" filter="url(#b2_5)"/>
<path d="M846.0 40.0 C839.7 43.0 818.0 52.8 808.0 58.0 C798.0 63.2 793.5 67.0 786.0 71.0 C778.5 75.0 769.5 77.5 763.0 82.0 C756.5 86.5 753.8 93.2 747.0 98.0 C740.2 102.8 729.2 107.0 722.0 111.0 C714.8 115.0 710.2 118.0 704.0 122.0 C697.8 126.0 691.0 131.2 685.0 135.0 C679.0 138.8 673.8 141.8 668.0 145.0 C662.2 148.2 653.0 152.5 650.0 154.0" fill="none" stroke="#140e36" stroke-width="12.0" stroke-linecap="round" opacity="0.80" filter="url(#b4)"/>
<path d="M600.0 -10.0 C645.0 -40.3 825.3 -16.7 870.0 -10.0 C914.7 -3.3 872.0 22.2 868.0 30.0 C864.0 37.8 856.0 33.0 846.0 37.0 C836.0 41.0 818.0 49.0 808.0 54.0 C798.0 59.0 793.8 63.2 786.0 67.0 C778.2 70.8 767.8 72.7 761.0 77.0 C754.2 81.3 750.0 88.7 745.0 93.0 C740.0 97.3 735.5 100.7 731.0 103.0 C726.5 105.3 722.8 104.7 718.0 107.0 C713.2 109.3 707.8 113.2 702.0 117.0 C696.2 120.8 689.0 126.2 683.0 130.0 C677.0 133.8 671.8 136.8 666.0 140.0 C660.2 143.2 653.3 149.5 648.0 149.5 C642.7 149.5 638.3 141.1 634.0 140.0 C629.7 138.9 627.7 137.7 622.0 143.0 C616.3 148.3 603.7 197.5 600.0 172.0 C596.3 146.5 555.0 20.3 600.0 -10.0 Z" fill="#000004" filter="url(#b2_5)"/>
<ellipse cx="772.0" cy="56.0" rx="20.0" ry="8.0" fill="#251255" filter="url(#b3_5)" transform="rotate(-22.0 772.0 56.0)"/>
<ellipse cx="697.0" cy="100.0" rx="1.6" ry="7.0" fill="#701f81" filter="url(#b0_7)" transform="rotate(25.0 697.0 100.0)"/>
<path d="M1020.0 -10.0 C988.5 -4.7 1030.7 16.0 1036.0 22.0 C1041.3 28.0 1046.0 23.7 1052.0 26.0 C1058.0 28.3 1066.0 32.0 1072.0 36.0 C1078.0 40.0 1080.8 45.7 1088.0 50.0 C1095.2 54.3 1105.0 56.0 1115.0 62.0 C1125.0 68.0 1139.5 78.8 1148.0 86.0 C1156.5 93.2 1161.7 99.3 1166.0 105.0 C1170.3 110.7 1171.5 115.0 1174.0 120.0 C1176.5 125.0 1179.3 129.2 1181.0 135.0 C1182.7 140.8 1182.2 150.3 1184.0 155.0 C1185.8 159.7 1189.0 161.2 1192.0 163.0 C1195.0 164.8 1196.5 164.0 1202.0 166.0 C1207.5 168.0 1221.2 204.3 1225.0 175.0 C1228.8 145.7 1259.2 20.8 1225.0 -10.0 C1190.8 -40.8 1051.5 -15.3 1020.0 -10.0 Z" fill="#000004" filter="url(#b2)"/>
</g>
<g fill="none" stroke="#000" stroke-width="1.85" stroke-linecap="round" stroke-dasharray="0.01 4.47">
<path d="M613.60 155.30 H1205.40"/>
<path d="M619.79 125.20 H1199.21"/>
<path d="M639.04 95.30 H1179.96"/>
<path d="M671.53 67.40 H1147.47"/>
<path d="M717.41 42.80 H1101.59"/>
<path d="M778.43 22.70 H1040.57"/>
<path d="M619.79 185.40 H1199.21"/>
<path d="M639.04 215.30 H1179.96"/>
<path d="M671.53 243.20 H1147.47"/>
<path d="M717.41 267.80 H1101.59"/>
<path d="M778.43 287.90 H1040.57"/>
<path d="M800.28 287.90 L792.16 285.38 L784.21 282.68 L776.42 279.81 L768.82 276.77 L761.41 273.56 L754.21 270.19 L747.22 266.66 L740.45 262.97 L733.91 259.14 L727.62 255.17 L721.57 251.06 L715.79 246.81 L710.27 242.45 L705.02 237.96 L700.05 233.36 L695.38 228.65 L690.99 223.84 L686.91 218.93 L683.13 213.94 L679.66 208.87 L676.51 203.73 L673.68 198.51 L671.17 193.24 L668.99 187.92 L667.14 182.55 L665.62 177.15 L664.44 171.71 L663.59 166.25 L663.09 160.78 L662.92 155.30 L663.09 149.82 L663.59 144.35 L664.44 138.89 L665.62 133.45 L667.14 128.05 L668.99 122.68 L671.17 117.36 L673.68 112.09 L676.51 106.87 L679.66 101.73 L683.13 96.66 L686.91 91.67 L690.99 86.76 L695.38 81.95 L700.05 77.24 L705.02 72.64 L710.27 68.15 L715.79 63.79 L721.57 59.54 L727.62 55.43 L733.91 51.46 L740.45 47.63 L747.22 43.94 L754.21 40.41 L761.41 37.04 L768.82 33.83 L776.42 30.79 L784.21 27.92 L792.16 25.22 L800.28 22.70"/>
<path d="M822.12 287.90 L815.63 285.38 L809.26 282.68 L803.04 279.81 L796.96 276.77 L791.03 273.56 L785.27 270.19 L779.67 266.66 L774.26 262.97 L769.03 259.14 L764.00 255.17 L759.16 251.06 L754.53 246.81 L750.11 242.45 L745.92 237.96 L741.94 233.36 L738.20 228.65 L734.69 223.84 L731.43 218.93 L728.40 213.94 L725.63 208.87 L723.11 203.73 L720.84 198.51 L718.84 193.24 L717.09 187.92 L715.61 182.55 L714.40 177.15 L713.45 171.71 L712.78 166.25 L712.37 160.78 L712.23 155.30 L712.37 149.82 L712.78 144.35 L713.45 138.89 L714.40 133.45 L715.61 128.05 L717.09 122.68 L718.84 117.36 L720.84 112.09 L723.11 106.87 L725.63 101.73 L728.40 96.66 L731.43 91.67 L734.69 86.76 L738.20 81.95 L741.94 77.24 L745.92 72.64 L750.11 68.15 L754.53 63.79 L759.16 59.54 L764.00 55.43 L769.03 51.46 L774.26 47.63 L779.67 43.94 L785.27 40.41 L791.03 37.04 L796.96 33.83 L803.04 30.79 L809.26 27.92 L815.63 25.22 L822.12 22.70"/>
<path d="M843.97 287.90 L839.10 285.38 L834.32 282.68 L829.65 279.81 L825.09 276.77 L820.65 273.56 L816.33 270.19 L812.13 266.66 L808.07 262.97 L804.15 259.14 L800.37 255.17 L796.74 251.06 L793.27 246.81 L789.96 242.45 L786.81 237.96 L783.83 233.36 L781.03 228.65 L778.39 223.84 L775.94 218.93 L773.68 213.94 L771.60 208.87 L769.71 203.73 L768.01 198.51 L766.50 193.24 L765.19 187.92 L764.08 182.55 L763.17 177.15 L762.46 171.71 L761.96 166.25 L761.65 160.78 L761.55 155.30 L761.65 149.82 L761.96 144.35 L762.46 138.89 L763.17 133.45 L764.08 128.05 L765.19 122.68 L766.50 117.36 L768.01 112.09 L769.71 106.87 L771.60 101.73 L773.68 96.66 L775.94 91.67 L778.39 86.76 L781.03 81.95 L783.83 77.24 L786.81 72.64 L789.96 68.15 L793.27 63.79 L796.74 59.54 L800.37 55.43 L804.15 51.46 L808.07 47.63 L812.13 43.94 L816.33 40.41 L820.65 37.04 L825.09 33.83 L829.65 30.79 L834.32 27.92 L839.10 25.22 L843.97 22.70"/>
<path d="M865.81 287.90 L862.56 285.38 L859.38 282.68 L856.27 279.81 L853.23 276.77 L850.27 273.56 L847.38 270.19 L844.59 266.66 L841.88 262.97 L839.27 259.14 L836.75 255.17 L834.33 251.06 L832.02 246.81 L829.81 242.45 L827.71 237.96 L825.72 233.36 L823.85 228.65 L822.10 223.84 L820.46 218.93 L818.95 213.94 L817.56 208.87 L816.30 203.73 L815.17 198.51 L814.17 193.24 L813.30 187.92 L812.56 182.55 L811.95 177.15 L811.48 171.71 L811.14 166.25 L810.93 160.78 L810.87 155.30 L810.93 149.82 L811.14 144.35 L811.48 138.89 L811.95 133.45 L812.56 128.05 L813.30 122.68 L814.17 117.36 L815.17 112.09 L816.30 106.87 L817.56 101.73 L818.95 96.66 L820.46 91.67 L822.10 86.76 L823.85 81.95 L825.72 77.24 L827.71 72.64 L829.81 68.15 L832.02 63.79 L834.33 59.54 L836.75 55.43 L839.27 51.46 L841.88 47.63 L844.59 43.94 L847.38 40.41 L850.27 37.04 L853.23 33.83 L856.27 30.79 L859.38 27.92 L862.56 25.22 L865.81 22.70"/>
<path d="M887.66 287.90 L886.03 285.38 L884.44 282.68 L882.88 279.81 L881.36 276.77 L879.88 273.56 L878.44 270.19 L877.04 266.66 L875.69 262.97 L874.38 259.14 L873.12 255.17 L871.91 251.06 L870.76 246.81 L869.65 242.45 L868.60 237.96 L867.61 233.36 L866.68 228.65 L865.80 223.84 L864.98 218.93 L864.23 213.94 L863.53 208.87 L862.90 203.73 L862.34 198.51 L861.83 193.24 L861.40 187.92 L861.03 182.55 L860.72 177.15 L860.49 171.71 L860.32 166.25 L860.22 160.78 L860.18 155.30 L860.22 149.82 L860.32 144.35 L860.49 138.89 L860.72 133.45 L861.03 128.05 L861.40 122.68 L861.83 117.36 L862.34 112.09 L862.90 106.87 L863.53 101.73 L864.23 96.66 L864.98 91.67 L865.80 86.76 L866.68 81.95 L867.61 77.24 L868.60 72.64 L869.65 68.15 L870.76 63.79 L871.91 59.54 L873.12 55.43 L874.38 51.46 L875.69 47.63 L877.04 43.94 L878.44 40.41 L879.88 37.04 L881.36 33.83 L882.88 30.79 L884.44 27.92 L886.03 25.22 L887.66 22.70"/>
<path d="M909.50 287.90 L909.50 285.38 L909.50 282.68 L909.50 279.81 L909.50 276.77 L909.50 273.56 L909.50 270.19 L909.50 266.66 L909.50 262.97 L909.50 259.14 L909.50 255.17 L909.50 251.06 L909.50 246.81 L909.50 242.45 L909.50 237.96 L909.50 233.36 L909.50 228.65 L909.50 223.84 L909.50 218.93 L909.50 213.94 L909.50 208.87 L909.50 203.73 L909.50 198.51 L909.50 193.24 L909.50 187.92 L909.50 182.55 L909.50 177.15 L909.50 171.71 L909.50 166.25 L909.50 160.78 L909.50 155.30 L909.50 149.82 L909.50 144.35 L909.50 138.89 L909.50 133.45 L909.50 128.05 L909.50 122.68 L909.50 117.36 L909.50 112.09 L909.50 106.87 L909.50 101.73 L909.50 96.66 L909.50 91.67 L909.50 86.76 L909.50 81.95 L909.50 77.24 L909.50 72.64 L909.50 68.15 L909.50 63.79 L909.50 59.54 L909.50 55.43 L909.50 51.46 L909.50 47.63 L909.50 43.94 L909.50 40.41 L909.50 37.04 L909.50 33.83 L909.50 30.79 L909.50 27.92 L909.50 25.22 L909.50 22.70"/>
<path d="M931.34 287.90 L932.97 285.38 L934.56 282.68 L936.12 279.81 L937.64 276.77 L939.12 273.56 L940.56 270.19 L941.96 266.66 L943.31 262.97 L944.62 259.14 L945.88 255.17 L947.09 251.06 L948.24 246.81 L949.35 242.45 L950.40 237.96 L951.39 233.36 L952.32 228.65 L953.20 223.84 L954.02 218.93 L954.77 213.94 L955.47 208.87 L956.10 203.73 L956.66 198.51 L957.17 193.24 L957.60 187.92 L957.97 182.55 L958.28 177.15 L958.51 171.71 L958.68 166.25 L958.78 160.78 L958.82 155.30 L958.78 149.82 L958.68 144.35 L958.51 138.89 L958.28 133.45 L957.97 128.05 L957.60 122.68 L957.17 117.36 L956.66 112.09 L956.10 106.87 L955.47 101.73 L954.77 96.66 L954.02 91.67 L953.20 86.76 L952.32 81.95 L951.39 77.24 L950.40 72.64 L949.35 68.15 L948.24 63.79 L947.09 59.54 L945.88 55.43 L944.62 51.46 L943.31 47.63 L941.96 43.94 L940.56 40.41 L939.12 37.04 L937.64 33.83 L936.12 30.79 L934.56 27.92 L932.97 25.22 L931.34 22.70"/>
<path d="M953.19 287.90 L956.44 285.38 L959.62 282.68 L962.73 279.81 L965.77 276.77 L968.73 273.56 L971.62 270.19 L974.41 266.66 L977.12 262.97 L979.73 259.14 L982.25 255.17 L984.67 251.06 L986.98 246.81 L989.19 242.45 L991.29 237.96 L993.28 233.36 L995.15 228.65 L996.90 223.84 L998.54 218.93 L1000.05 213.94 L1001.44 208.87 L1002.70 203.73 L1003.83 198.51 L1004.83 193.24 L1005.70 187.92 L1006.44 182.55 L1007.05 177.15 L1007.52 171.71 L1007.86 166.25 L1008.07 160.78 L1008.13 155.30 L1008.07 149.82 L1007.86 144.35 L1007.52 138.89 L1007.05 133.45 L1006.44 128.05 L1005.70 122.68 L1004.83 117.36 L1003.83 112.09 L1002.70 106.87 L1001.44 101.73 L1000.05 96.66 L998.54 91.67 L996.90 86.76 L995.15 81.95 L993.28 77.24 L991.29 72.64 L989.19 68.15 L986.98 63.79 L984.67 59.54 L982.25 55.43 L979.73 51.46 L977.12 47.63 L974.41 43.94 L971.62 40.41 L968.73 37.04 L965.77 33.83 L962.73 30.79 L959.62 27.92 L956.44 25.22 L953.19 22.70"/>
<path d="M975.03 287.90 L979.90 285.38 L984.68 282.68 L989.35 279.81 L993.91 276.77 L998.35 273.56 L1002.67 270.19 L1006.87 266.66 L1010.93 262.97 L1014.85 259.14 L1018.63 255.17 L1022.26 251.06 L1025.73 246.81 L1029.04 242.45 L1032.19 237.96 L1035.17 233.36 L1037.97 228.65 L1040.61 223.84 L1043.06 218.93 L1045.32 213.94 L1047.40 208.87 L1049.29 203.73 L1050.99 198.51 L1052.50 193.24 L1053.81 187.92 L1054.92 182.55 L1055.83 177.15 L1056.54 171.71 L1057.04 166.25 L1057.35 160.78 L1057.45 155.30 L1057.35 149.82 L1057.04 144.35 L1056.54 138.89 L1055.83 133.45 L1054.92 128.05 L1053.81 122.68 L1052.50 117.36 L1050.99 112.09 L1049.29 106.87 L1047.40 101.73 L1045.32 96.66 L1043.06 91.67 L1040.61 86.76 L1037.97 81.95 L1035.17 77.24 L1032.19 72.64 L1029.04 68.15 L1025.73 63.79 L1022.26 59.54 L1018.63 55.43 L1014.85 51.46 L1010.93 47.63 L1006.87 43.94 L1002.67 40.41 L998.35 37.04 L993.91 33.83 L989.35 30.79 L984.68 27.92 L979.90 25.22 L975.03 22.70"/>
<path d="M996.88 287.90 L1003.37 285.38 L1009.74 282.68 L1015.96 279.81 L1022.04 276.77 L1027.97 273.56 L1033.73 270.19 L1039.33 266.66 L1044.74 262.97 L1049.97 259.14 L1055.00 255.17 L1059.84 251.06 L1064.47 246.81 L1068.89 242.45 L1073.08 237.96 L1077.06 233.36 L1080.80 228.65 L1084.31 223.84 L1087.57 218.93 L1090.60 213.94 L1093.37 208.87 L1095.89 203.73 L1098.16 198.51 L1100.16 193.24 L1101.91 187.92 L1103.39 182.55 L1104.60 177.15 L1105.55 171.71 L1106.22 166.25 L1106.63 160.78 L1106.77 155.30 L1106.63 149.82 L1106.22 144.35 L1105.55 138.89 L1104.60 133.45 L1103.39 128.05 L1101.91 122.68 L1100.16 117.36 L1098.16 112.09 L1095.89 106.87 L1093.37 101.73 L1090.60 96.66 L1087.57 91.67 L1084.31 86.76 L1080.80 81.95 L1077.06 77.24 L1073.08 72.64 L1068.89 68.15 L1064.47 63.79 L1059.84 59.54 L1055.00 55.43 L1049.97 51.46 L1044.74 47.63 L1039.33 43.94 L1033.73 40.41 L1027.97 37.04 L1022.04 33.83 L1015.96 30.79 L1009.74 27.92 L1003.37 25.22 L996.88 22.70"/>
<path d="M1018.72 287.90 L1026.84 285.38 L1034.79 282.68 L1042.58 279.81 L1050.18 276.77 L1057.59 273.56 L1064.79 270.19 L1071.78 266.66 L1078.55 262.97 L1085.09 259.14 L1091.38 255.17 L1097.43 251.06 L1103.21 246.81 L1108.73 242.45 L1113.98 237.96 L1118.95 233.36 L1123.62 228.65 L1128.01 223.84 L1132.09 218.93 L1135.87 213.94 L1139.34 208.87 L1142.49 203.73 L1145.32 198.51 L1147.83 193.24 L1150.01 187.92 L1151.86 182.55 L1153.38 177.15 L1154.56 171.71 L1155.41 166.25 L1155.91 160.78 L1156.08 155.30 L1155.91 149.82 L1155.41 144.35 L1154.56 138.89 L1153.38 133.45 L1151.86 128.05 L1150.01 122.68 L1147.83 117.36 L1145.32 112.09 L1142.49 106.87 L1139.34 101.73 L1135.87 96.66 L1132.09 91.67 L1128.01 86.76 L1123.62 81.95 L1118.95 77.24 L1113.98 72.64 L1108.73 68.15 L1103.21 63.79 L1097.43 59.54 L1091.38 55.43 L1085.09 51.46 L1078.55 47.63 L1071.78 43.94 L1064.79 40.41 L1057.59 37.04 L1050.18 33.83 L1042.58 30.79 L1034.79 27.92 L1026.84 25.22 L1018.72 22.70"/>
</g>
<path d="M1176.68 93.26 A294.80 146.80 0 0 1 662.26 235.25" fill="none" stroke="#fff" stroke-width="0.8" stroke-dasharray="5.5 1.8" opacity="0.95"/>
<ellipse cx="909.50" cy="155.30" rx="295.90" ry="147.90" fill="none" stroke="#000" stroke-width="1.6"/>
<path d="M0 0 H192.3 V27.5 Q192.3 33.3 186.5 33.3 H0 Z" fill="#fff"/>
<path d="M606 0 H872.8 V27.5 Q872.8 33.3 867 33.3 H606 Z" fill="#fff"/>
<text x="5.0" y="22.3" textLength="62.7" lengthAdjust="spacingAndGlyphs" font-size="20.5" style="font-weight:normal" stroke="#111" stroke-width="0.75">recent</text><text x="78.4" y="22.3" textLength="105.6" lengthAdjust="spacingAndGlyphs" font-size="20.5" style="font-weight:normal" stroke="#111" stroke-width="0.75">supernova</text>
<text x="614.1" y="22.3" textLength="75.0" lengthAdjust="spacingAndGlyphs" font-size="20.5" style="font-weight:normal" stroke="#111" stroke-width="0.75">current</text><text x="699.5" y="22.3" textLength="47.8" lengthAdjust="spacingAndGlyphs" font-size="20.5" style="font-weight:normal" stroke="#111" stroke-width="0.75">local</text><text x="756.6" y="22.3" textLength="106.9" lengthAdjust="spacingAndGlyphs" font-size="20.5" style="font-weight:normal" stroke="#111" stroke-width="0.75">conditions</text>
<rect x="83.9" y="321.4" width="1046.0" height="42.8" fill="url(#mg)" stroke="#000" stroke-width="1.4"/>
<g stroke="#000" stroke-width="1.3" fill="none"><path d="M83.90 364.2 v5.5"/><path d="M136.38 364.2 v3.3" stroke-width="1.1"/><path d="M167.08 364.2 v3.3" stroke-width="1.1"/><path d="M188.86 364.2 v3.3" stroke-width="1.1"/><path d="M205.75 364.2 v3.3" stroke-width="1.1"/><path d="M219.56 364.2 v3.3" stroke-width="1.1"/><path d="M231.23 364.2 v3.3" stroke-width="1.1"/><path d="M241.34 364.2 v3.3" stroke-width="1.1"/><path d="M250.26 364.2 v3.3" stroke-width="1.1"/><path d="M258.23 364.2 v5.5"/><path d="M310.71 364.2 v3.3" stroke-width="1.1"/><path d="M341.41 364.2 v3.3" stroke-width="1.1"/><path d="M363.19 364.2 v3.3" stroke-width="1.1"/><path d="M380.09 364.2 v3.3" stroke-width="1.1"/><path d="M393.89 364.2 v3.3" stroke-width="1.1"/><path d="M405.56 364.2 v3.3" stroke-width="1.1"/><path d="M415.67 364.2 v3.3" stroke-width="1.1"/><path d="M424.59 364.2 v3.3" stroke-width="1.1"/><path d="M432.57 364.2 v5.5"/><path d="M485.05 364.2 v3.3" stroke-width="1.1"/><path d="M515.74 364.2 v3.3" stroke-width="1.1"/><path d="M537.53 364.2 v3.3" stroke-width="1.1"/><path d="M554.42 364.2 v3.3" stroke-width="1.1"/><path d="M568.22 364.2 v3.3" stroke-width="1.1"/><path d="M579.90 364.2 v3.3" stroke-width="1.1"/><path d="M590.01 364.2 v3.3" stroke-width="1.1"/><path d="M598.92 364.2 v3.3" stroke-width="1.1"/><path d="M606.90 364.2 v5.5"/><path d="M659.38 364.2 v3.3" stroke-width="1.1"/><path d="M690.08 364.2 v3.3" stroke-width="1.1"/><path d="M711.86 364.2 v3.3" stroke-width="1.1"/><path d="M728.75 364.2 v3.3" stroke-width="1.1"/><path d="M742.56 364.2 v3.3" stroke-width="1.1"/><path d="M754.23 364.2 v3.3" stroke-width="1.1"/><path d="M764.34 364.2 v3.3" stroke-width="1.1"/><path d="M773.26 364.2 v3.3" stroke-width="1.1"/><path d="M781.23 364.2 v5.5"/><path d="M833.71 364.2 v3.3" stroke-width="1.1"/><path d="M864.41 364.2 v3.3" stroke-width="1.1"/><path d="M886.19 364.2 v3.3" stroke-width="1.1"/><path d="M903.09 364.2 v3.3" stroke-width="1.1"/><path d="M916.89 364.2 v3.3" stroke-width="1.1"/><path d="M928.56 364.2 v3.3" stroke-width="1.1"/><path d="M938.67 364.2 v3.3" stroke-width="1.1"/><path d="M947.59 364.2 v3.3" stroke-width="1.1"/><path d="M955.57 364.2 v5.5"/><path d="M1008.05 364.2 v3.3" stroke-width="1.1"/><path d="M1038.74 364.2 v3.3" stroke-width="1.1"/><path d="M1060.53 364.2 v3.3" stroke-width="1.1"/><path d="M1077.42 364.2 v3.3" stroke-width="1.1"/><path d="M1091.22 364.2 v3.3" stroke-width="1.1"/><path d="M1102.90 364.2 v3.3" stroke-width="1.1"/><path d="M1113.01 364.2 v3.3" stroke-width="1.1"/><path d="M1121.92 364.2 v3.3" stroke-width="1.1"/><path d="M1129.90 364.2 v5.5"/></g>
<g><text x="68.3" y="386.9" textLength="17.4" lengthAdjust="spacingAndGlyphs" font-size="15.8">10</text><text x="86.9" y="380.7" textLength="12.4" lengthAdjust="spacingAndGlyphs" font-size="11.0">22</text><text x="242.6" y="386.9" textLength="17.4" lengthAdjust="spacingAndGlyphs" font-size="15.8">10</text><text x="261.2" y="380.7" textLength="12.4" lengthAdjust="spacingAndGlyphs" font-size="11.0">23</text><text x="417.0" y="386.9" textLength="17.4" lengthAdjust="spacingAndGlyphs" font-size="15.8">10</text><text x="435.6" y="380.7" textLength="12.4" lengthAdjust="spacingAndGlyphs" font-size="11.0">24</text><text x="591.3" y="386.9" textLength="17.4" lengthAdjust="spacingAndGlyphs" font-size="15.8">10</text><text x="609.9" y="380.7" textLength="12.4" lengthAdjust="spacingAndGlyphs" font-size="11.0">25</text><text x="765.6" y="386.9" textLength="17.4" lengthAdjust="spacingAndGlyphs" font-size="15.8">10</text><text x="784.2" y="380.7" textLength="12.4" lengthAdjust="spacingAndGlyphs" font-size="11.0">26</text><text x="940.0" y="386.9" textLength="17.4" lengthAdjust="spacingAndGlyphs" font-size="15.8">10</text><text x="958.6" y="380.7" textLength="12.4" lengthAdjust="spacingAndGlyphs" font-size="11.0">27</text><text x="1114.3" y="386.9" textLength="17.4" lengthAdjust="spacingAndGlyphs" font-size="15.8">10</text><text x="1132.9" y="380.7" textLength="12.4" lengthAdjust="spacingAndGlyphs" font-size="11.0">28</text></g>
<text x="539.0" y="408.9" textLength="11.5" lengthAdjust="spacingAndGlyphs" font-size="15.8" font-style="italic">F</text><text x="549.5" y="411.5" textLength="10.0" lengthAdjust="spacingAndGlyphs" font-size="11.0" font-style="italic">X</text><text x="568.3" y="408.9" textLength="29.0" lengthAdjust="spacingAndGlyphs" font-size="15.8">(erg</text><text x="603.9" y="408.9" textLength="6.6" lengthAdjust="spacingAndGlyphs" font-size="15.8">s</text><text x="612.5" y="402.6" textLength="15.8" lengthAdjust="spacingAndGlyphs" font-size="11.0">−1</text><text x="635.3" y="408.9" textLength="13.2" lengthAdjust="spacingAndGlyphs" font-size="15.8">sr</text><text x="650.6" y="402.6" textLength="15.8" lengthAdjust="spacingAndGlyphs" font-size="11.0">−1</text><text x="668.4" y="408.9" textLength="5.6" lengthAdjust="spacingAndGlyphs" font-size="15.8">)</text>
</svg>
</body></html>
